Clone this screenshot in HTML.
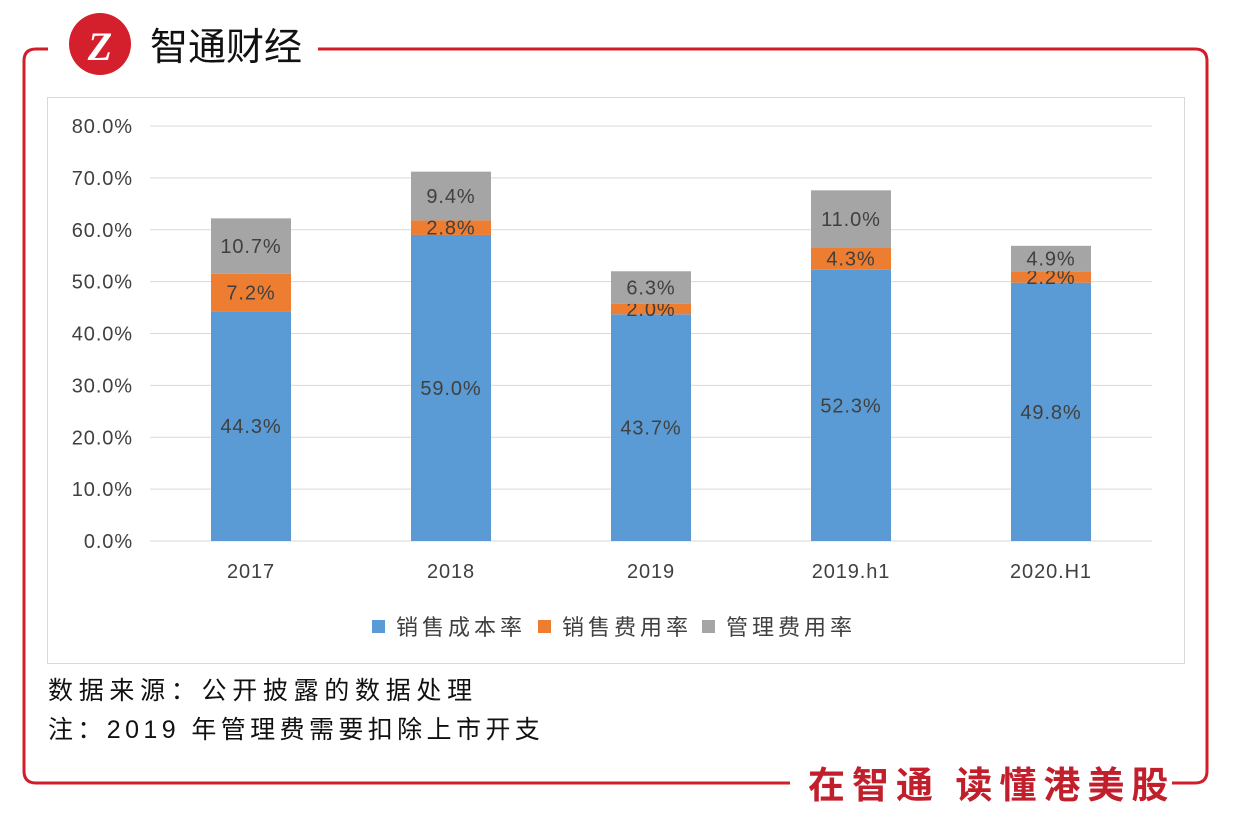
<!DOCTYPE html>
<html><head><meta charset="utf-8">
<style>
body{margin:0;width:1245px;height:840px;background:#fff;overflow:hidden;font-family:"Liberation Sans","Noto Sans CJK SC",sans-serif;position:relative}
.abs{position:absolute}
</style></head><body>
<svg class="abs" style="left:0;top:0" width="1245" height="840">
<path d="M48,49 H36 Q24,49 24,61 V771 Q24,783 36,783 H790" fill="none" stroke="#d11f2a" stroke-width="3"/>
<path d="M318,49 H1195 Q1207,49 1207,61 V771 Q1207,783 1195,783 H1172" fill="none" stroke="#d11f2a" stroke-width="3"/>
<circle cx="100" cy="44" r="31" fill="#d4202c"/>
<text x="100" y="60" text-anchor="middle" font-size="40" font-weight="bold" fill="#fff" font-family="Liberation Serif,serif" font-style="italic">Z</text>
<text x="150" y="60" font-size="38" fill="#111" font-family="Noto Sans CJK SC,sans-serif">智通财经</text>
<text x="808" y="798" font-size="37" font-weight="bold" fill="#c21f2d" letter-spacing="7" font-family="Noto Sans CJK SC,sans-serif">在智通 读懂港美股</text>
<rect x="47.5" y="97.5" width="1137" height="566" fill="#fff" stroke="#d9d9d9"/>
<g id="chart"></g>
</svg>
<div class="abs" style="left:48px;top:671px;font-size:25px;letter-spacing:5.7px;color:#111">数据来源：公开披露的数据处理</div>
<div class="abs" style="left:48px;top:710px;font-size:25px;letter-spacing:4.4px;color:#111">注：2019 年管理费需要扣除上市开支</div>
<script>
const categories=["2017","2018","2019","2019.h1","2020.H1"];
const costRate=[44.3,59.0,43.7,52.3,49.8];
const salesRate=[7.2,2.8,2.0,4.3,2.2];
const mgmtRate=[10.7,9.4,6.3,11.0,4.9];
const yTicks=[0,10,20,30,40,50,60,70,80];
const seriesNames=["销售成本率","销售费用率","管理费用率"];
const colors=["#5b9bd5","#ed7d31","#a5a5a5"];
const NS="http://www.w3.org/2000/svg";
const g=document.getElementById('chart');
const y=v=>541-v*5.1875;
const x=i=>251+i*200;
function mk(t,a){const e=document.createElementNS(NS,t);for(const k in a)e.setAttribute(k,a[k]);g.appendChild(e);return e;}
yTicks.forEach(t=>{
 const l=mk('line',{x1:150,x2:1152,y1:y(t),y2:y(t),stroke:'#d9d9d9','stroke-width':1});
 
 
 const tx=mk('text',{x:133,y:y(t)+7,'text-anchor':'end','font-size':20,'letter-spacing':0.9,fill:'#404040'});
 tx.textContent=t.toFixed(1)+'%';
 
 
});
const series=[costRate,salesRate,mgmtRate];
categories.forEach((c,i)=>{
 let base=0;
 series.forEach((s,k)=>{
  const v=s[i];
  const r=mk('rect',{x:x(i)-40,y:y(base+v),width:80,height:y(base)-y(base+v),fill:colors[k]});
  
  
  const t=mk('text',{x:x(i),y:(y(base)+y(base+v))/2+7,'text-anchor':'middle','font-size':20,'letter-spacing':0.9,fill:'#404040'});
  t.textContent=v.toFixed(1)+'%';
  
  
  base+=v;
 });
 const xl=mk('text',{x:x(i),y:578,'text-anchor':'middle','font-size':20,'letter-spacing':0.9,fill:'#404040'});
 xl.textContent=c;
 
 
});
const lx=[372,538,702];
seriesNames.forEach((n,k)=>{
 const r=mk('rect',{x:lx[k],y:620,width:13,height:13,fill:colors[k]});
 
 
 const t=mk('text',{x:lx[k]+24,y:635,'font-size':22,'letter-spacing':4,fill:'#404040'});
 t.textContent=n;
 
 
});
</script>
</body></html>
